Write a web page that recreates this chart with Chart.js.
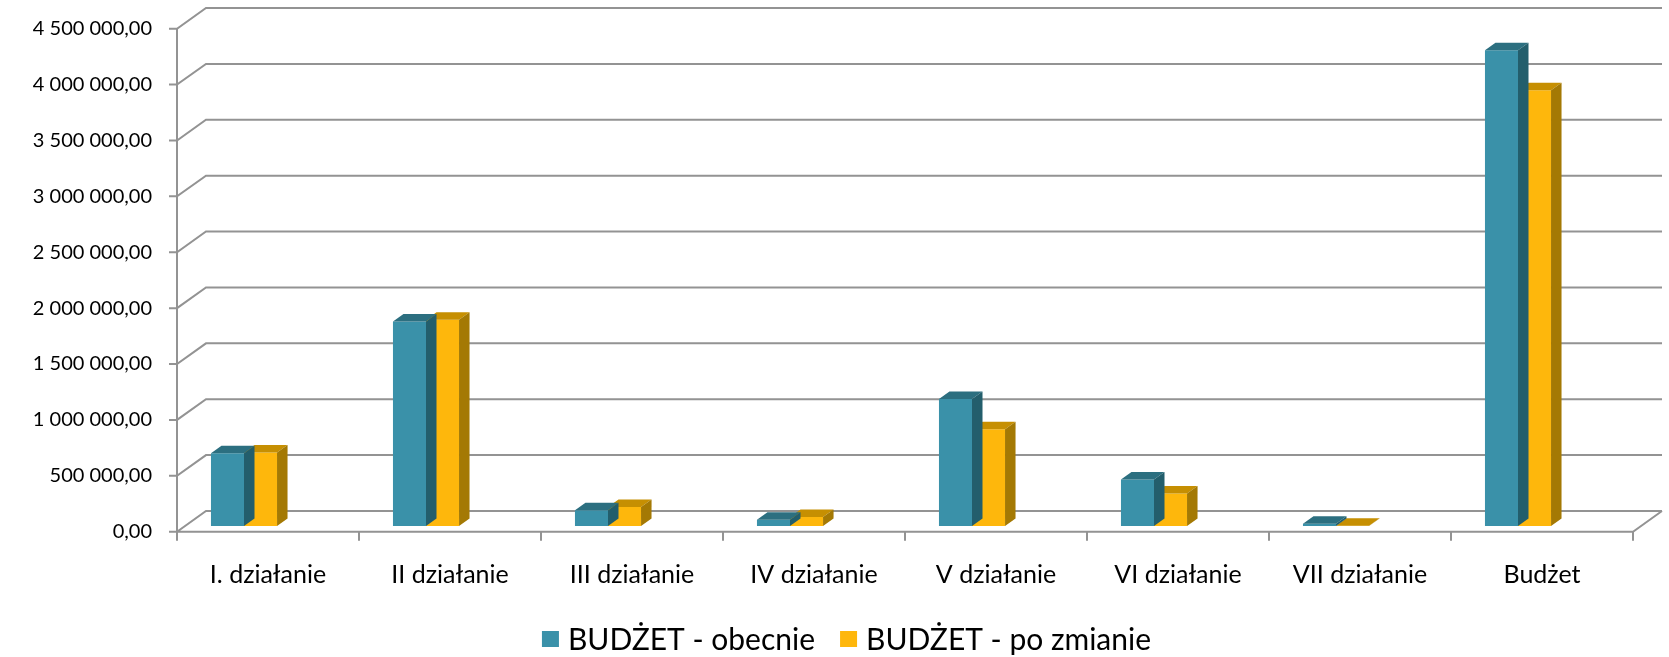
<!DOCTYPE html>
<html>
<head>
<meta charset="utf-8">
<script src="https://cdn.jsdelivr.net/npm/chart.js@4"></script>
<style>
  html, body { margin: 0; padding: 0; background: #fff; }
  #wrap { width: 1669px; height: 657px; position: relative; }
</style>
</head>
<body>
<div id="wrap"><canvas id="budgetChart"></canvas></div>
<script>
const categories = ['I. działanie', 'II działanie', 'III działanie', 'IV działanie', 'V działanie', 'VI działanie', 'VII działanie', 'Budżet'];
const budgetNow = [651000, 1830000, 140000, 57000, 1137000, 415000, 21000, 4256000];
const budgetChanged = [657000, 1845000, 170000, 80000, 866000, 290000, 3000, 3899000];
const seriesNames = ['BUDŻET - obecnie', 'BUDŻET - po zmianie'];
const yMax = 4500000;
const yStep = 500000;

const FONT = 'Lato, "Open Sans", sans-serif';
const front = { dx: 24, dy: 5.7 };   // front plane vs bar plane
const back = { dx: 53, dy: -15 };    // back wall vs bar plane
const depth = { dx: 10.5, dy: 7.5 }; // bar top/side faces
const faceColors = [
    { top: '#2c6f80', side: '#235e6c' },
    { top: '#c68f02', side: '#a47904' }
];
const gridColor = '#939393';

function fmt(v) {
    return Math.round(v).toString().replace(/\B(?=(\d{3})+(?!\d))/g, ' ') + ',00';
}

// walls, grid and axes of the 3D box
const wallsPlugin = {
    id: 'walls',
    beforeDatasetsDraw(chart) {
        const ctx = chart.ctx;
        const y = chart.scales.y;
        const x = chart.scales.x;
        const left = chart.chartArea.left, right = chart.chartArea.right;
        ctx.save();
        ctx.strokeStyle = gridColor;
        ctx.lineWidth = 2;
        ctx.beginPath();
        for (let v = 0; v <= yMax; v += yStep) {
            const py = y.getPixelForValue(v);
            ctx.moveTo(left + front.dx - 8, py + front.dy);
            ctx.lineTo(left + front.dx, py + front.dy);
            ctx.lineTo(left + back.dx, py + back.dy);
            ctx.lineTo(right + back.dx, py + back.dy);
        }
        const y0 = y.getPixelForValue(0);
        const yTop = y.getPixelForValue(yMax);
        ctx.moveTo(left + front.dx, yTop + front.dy);
        ctx.lineTo(left + front.dx, y0 + front.dy);
        ctx.lineTo(right + front.dx, y0 + front.dy);
        ctx.lineTo(right + back.dx, y0 + back.dy);
        // category ticks on the floor edge
        for (let i = 0; i <= categories.length; i++) {
            let px;
            if (i === 0) px = left;
            else if (i === categories.length) px = right;
            else px = (x.getPixelForValue(i - 1) + x.getPixelForValue(i)) / 2;
            ctx.moveTo(px + front.dx, y0 + front.dy);
            ctx.lineTo(px + front.dx, y0 + front.dy + 9);
        }
        ctx.stroke();
        ctx.restore();
    }
};

// top and side faces of the columns
const facesPlugin = {
    id: 'faces',
    afterDatasetDraw(chart, args) {
        const ctx = chart.ctx;
        const c = faceColors[args.index];
        ctx.save();
        args.meta.data.forEach(bar => {
            const p = bar.getProps(['x', 'y', 'base', 'width'], true);
            const l = p.x - p.width / 2, r = p.x + p.width / 2;
            ctx.fillStyle = c.top;
            ctx.beginPath();
            ctx.moveTo(l, p.y);
            ctx.lineTo(r, p.y);
            ctx.lineTo(r + depth.dx, p.y - depth.dy);
            ctx.lineTo(l + depth.dx, p.y - depth.dy);
            ctx.closePath();
            ctx.fill();
            ctx.fillStyle = c.side;
            ctx.beginPath();
            ctx.moveTo(r, p.y);
            ctx.lineTo(r + depth.dx, p.y - depth.dy);
            ctx.lineTo(r + depth.dx, p.base - depth.dy);
            ctx.lineTo(r, p.base);
            ctx.closePath();
            ctx.fill();
        });
        ctx.restore();
    }
};

// legend row under the axis labels
const legendPlugin = {
    id: 'bottomLegend',
    afterDraw(chart) {
        const ctx = chart.ctx;
        const sets = chart.data.datasets;
        const box = 17, gap = 9, itemGap = 25, cy = 639;
        ctx.save();
        ctx.font = '30px ' + FONT;
        ctx.textBaseline = 'middle';
        const widths = sets.map(d => ctx.measureText(d.label).width);
        let total = 0;
        widths.forEach((w, i) => { total += box + gap + w + (i ? itemGap : 0); });
        let cx = chart.width / 2 + 12 - total / 2;
        sets.forEach((d, i) => {
            ctx.fillStyle = d.backgroundColor;
            ctx.fillRect(cx, cy - 8, box, 16);
            cx += box + gap;
            ctx.fillStyle = '#000';
            ctx.fillText(d.label, cx, cy + 1);
            cx += widths[i] + itemGap;
        });
        ctx.restore();
    }
};

const ctx = document.getElementById('budgetChart').getContext('2d');
const chart = new Chart(ctx, {
    type: 'bar',
    data: {
        labels: categories,
        datasets: [
            { label: seriesNames[0], data: budgetNow, backgroundColor: '#3a91a9' },
            { label: seriesNames[1], data: budgetChanged, backgroundColor: '#feb70c' }
        ]
    },
    options: {
        responsive: true,
        maintainAspectRatio: false,
        animation: false,
        categoryPercentage: 0.363,
        barPercentage: 1.0,
        layout: { padding: { top: 23, right: 60, bottom: 0 } },
        plugins: {
            tooltip: { enabled: false },
            legend: { display: false }
        },
        scales: {
            x: {
                grid: { display: false, drawTicks: false },
                border: { display: false },
                afterFit(scale) { scale.height = 131; },
                ticks: {
                    color: '#000',
                    font: { family: FONT, size: 25 },
                    labelOffset: front.dx,
                    padding: 34,
                    maxRotation: 0,
                    autoSkip: false
                }
            },
            y: {
                min: 0,
                max: yMax,
                grid: { display: false, drawTicks: false },
                border: { display: false },
                afterFit(scale) { scale.width = 153; },
                ticks: {
                    stepSize: yStep,
                    color: '#000',
                    font: { family: FONT, size: 20 },
                    padding: 1,
                    labelOffset: front.dy,
                    callback: v => fmt(v)
                }
            }
        }
    },
    plugins: [wallsPlugin, facesPlugin, legendPlugin]
});
</script>
</body>
</html>
